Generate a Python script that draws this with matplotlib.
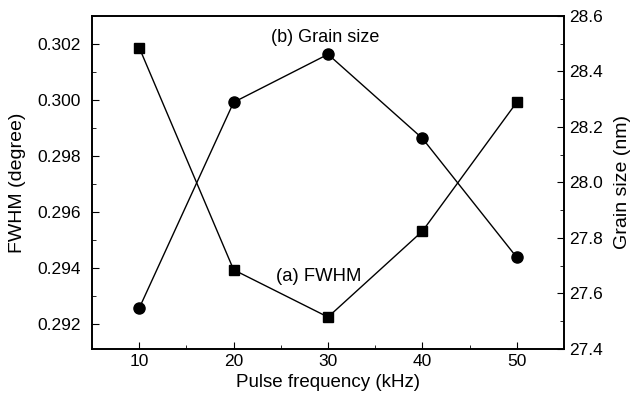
import matplotlib
matplotlib.use("Agg")
import matplotlib.pyplot as plt
from matplotlib.ticker import MultipleLocator

plt.rcParams['font.family'] = ['Liberation Sans', 'DejaVu Sans']

freq = [10, 20, 30, 40, 50]
fwhm = [0.30187, 0.29393, 0.29224, 0.29531, 0.29992]
grain = [27.547, 28.289, 28.462, 28.159, 27.730]

fig = plt.figure(figsize=(6.36, 4.05), dpi=100)
ax = fig.add_axes([0.1447, 0.1383, 0.7421, 0.8222])
ax2 = ax.twinx()

ax.plot(freq, fwhm, color='black', lw=1.0, marker='s', ms=7)
ax2.plot(freq, grain, color='black', lw=1.0, marker='o', ms=8)

ax.set_xlim(5, 55)
ax.set_ylim(0.2911, 0.3030)
ax2.set_ylim(27.4, 28.6)

ax.xaxis.set_major_locator(MultipleLocator(10))
ax.xaxis.set_minor_locator(MultipleLocator(5))
ax.yaxis.set_major_locator(MultipleLocator(0.002))
ax.yaxis.set_minor_locator(MultipleLocator(0.001))
ax2.yaxis.set_major_locator(MultipleLocator(0.2))
ax2.yaxis.set_minor_locator(MultipleLocator(0.1))
ax.yaxis.set_major_formatter(matplotlib.ticker.FormatStrFormatter('%.3f'))
ax2.yaxis.set_major_formatter(matplotlib.ticker.FormatStrFormatter('%.1f'))

ax.tick_params(axis='both', which='both', direction='in', labelsize=12.5, top=False, right=False)
ax.tick_params(axis='y', which='major', pad=8)
ax.tick_params(which='major', length=5)
ax.tick_params(which='minor', length=3)
ax2.tick_params(axis='y', which='both', direction='in', labelsize=12.5)
ax2.tick_params(which='major', length=5)
ax2.tick_params(which='minor', length=3)

for a in (ax, ax2):
    for s in a.spines.values():
        s.set_linewidth(1.2)

ax.set_xlabel('Pulse frequency (kHz)', fontsize=13.5, labelpad=4)
ax.set_ylabel('FWHM (degree)', fontsize=14, labelpad=8)
ax2.set_ylabel('Grain size (nm)', fontsize=14, labelpad=8)

ax.text(29.7, 0.30224, '(b) Grain size', fontsize=13, ha='center', va='center')
ax.text(29.0, 0.29369, '(a) FWHM', fontsize=13.3, ha='center', va='center')

fig.savefig('out.png', dpi=100)
